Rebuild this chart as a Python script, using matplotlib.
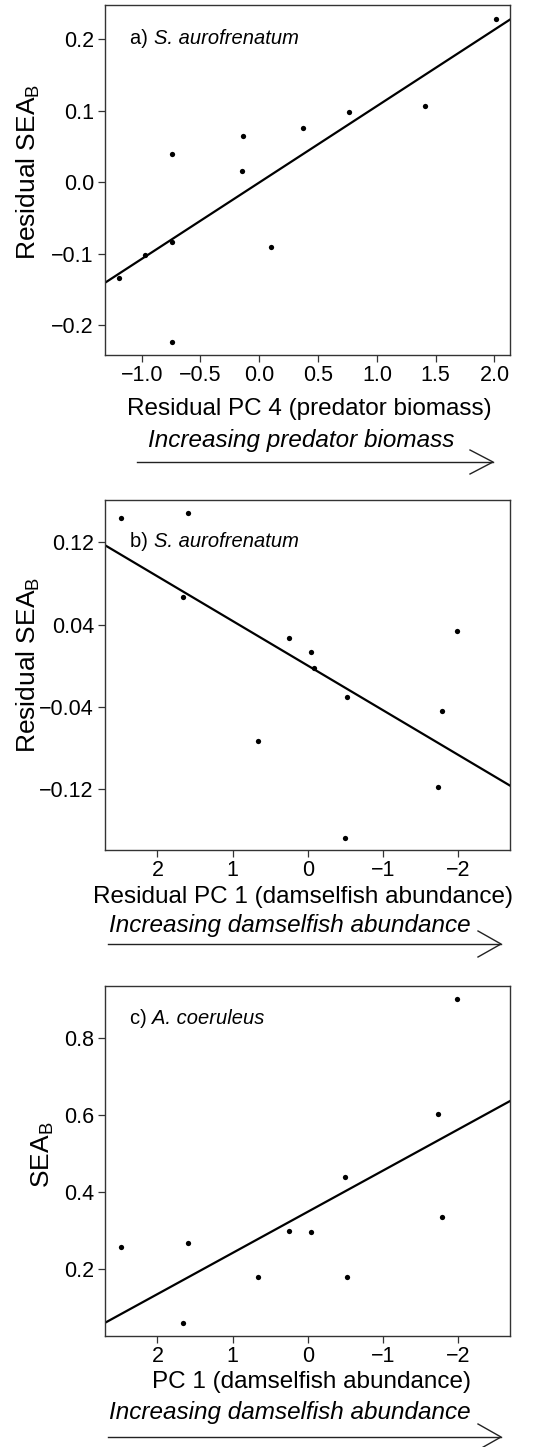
import matplotlib

matplotlib.use("Agg")
import matplotlib.pyplot as plt
from matplotlib.lines import Line2D
from matplotlib.ticker import FuncFormatter

plt.rcParams["font.family"] = ["Liberation Sans", "DejaVu Sans"]
plt.rcParams["mathtext.default"] = "regular"

W, H = 560, 1447

# panel a: residual PC4 vs residual SEA_B
a_x = [-1.19, -0.97, -0.74, -0.74, -0.74, -0.14, -0.15, 0.10, 0.37, 0.76, 1.41, 2.01]
a_y = [-0.134, -0.102, 0.040, -0.084, -0.224, 0.064, 0.016, -0.091, 0.076, 0.098, 0.107, 0.229]
a_fit = (0.107, -0.0005)  # slope, intercept
a_xticks = [-1.0, -0.5, 0.0, 0.5, 1.0, 1.5, 2.0]
a_yticks = [-0.2, -0.1, 0.0, 0.1, 0.2]

# panel b: residual PC1 vs residual SEA_B
b_x = [2.49, 1.60, 1.66, 0.25, -0.05, -0.09, -0.52, 0.66, -1.99, -1.79, -1.74, -0.50]
b_y = [0.144, 0.148, 0.067, 0.027, 0.013, -0.002, -0.030, -0.073, 0.034, -0.044, -0.118, -0.167]
b_fit = (0.0433, 0.0002)
b_xticks = [2, 1, 0, -1, -2]
b_yticks = [-0.12, -0.04, 0.04, 0.12]

# panel c: PC1 vs SEA_B
c_x = [2.49, 1.60, 1.66, 0.25, -0.05, -0.52, 0.66, -1.99, -1.79, -1.74, -0.50]
c_y = [0.259, 0.269, 0.061, 0.300, 0.296, 0.179, 0.179, 0.901, 0.336, 0.603, 0.439]
c_fit = (-0.1068, 0.3495)
c_xticks = [2, 1, 0, -1, -2]
c_yticks = [0.2, 0.4, 0.6, 0.8]


def fx(px):
    return px / W


def fy(py):
    return 1 - py / H


def fmt(decimals):
    return FuncFormatter(lambda v, pos: f"{v:.{decimals}f}".replace("-", "\u2212"))


def panel(fig, top, xs, ys, fit, xlim, ylim, xticks, yticks, xdec, ydec, letter, species):
    ax = fig.add_axes([fx(105), fy(top + 350), fx(405), 350 / H])
    ax.plot(xs, ys, "o", color="black", ms=3.8, mew=0)
    ax.axline((0, fit[1]), slope=fit[0], color="black", lw=1.6)
    ax.set_xlim(*xlim)
    ax.set_ylim(*ylim)
    ax.set_xticks(xticks)
    ax.set_yticks(yticks)
    ax.xaxis.set_major_formatter(fmt(xdec))
    ax.yaxis.set_major_formatter(fmt(ydec))
    ax.tick_params(labelsize=15.5, length=5, width=0.9, color="#333333", pad=3)
    ax.tick_params(axis="x", pad=2)
    for s in ax.spines.values():
        s.set_color("#333333")
        s.set_linewidth(1.0)
    t = ax.text(0.062, letter[1], letter[0], transform=ax.transAxes,
                fontsize=14.5, va="center", ha="left")
    ax.annotate(species, xy=(1, 0), xycoords=t, va="bottom", ha="left",
                fontsize=14.5, style="italic")
    return ax


def arrow(fig, x0, x1, y, back=23, half=13):
    kw = dict(color="#222222", lw=1.0)
    fig.add_artist(Line2D([fx(x0), fx(x1)], [fy(y), fy(y)], **kw))
    fig.add_artist(Line2D([fx(x1 - back), fx(x1), fx(x1 - back)],
                          [fy(y - half), fy(y), fy(y + half)], **kw))


fig = plt.figure(figsize=(W / 100, H / 100), dpi=100)

panel(fig, 5, a_x, a_y, a_fit, (-1.312, 2.132), (-0.242, 0.248),
      a_xticks, a_yticks, 1, 1, ("a) ", 0.905), "S. aurofrenatum")
panel(fig, 500, b_x, b_y, b_fit, (2.699, -2.694), (-0.179, 0.161),
      b_xticks, b_yticks, 0, 2, ("b) ", 0.881), "S. aurofrenatum")
panel(fig, 986, c_x, c_y, c_fit, (2.699, -2.694), (0.027, 0.936),
      c_xticks, c_yticks, 0, 1, ("c) ", 0.908), "A. coeruleus")

lab = dict(fontsize=17.5, ha="center", va="center")
ylab = dict(fontsize=19, ha="center", va="center", rotation=90)
ital = dict(fontsize=17.5, ha="center", va="center", style="italic")

fig.text(fx(28), fy(172), "Residual SEA$_B$", **ylab)
fig.text(fx(309), fy(409), "Residual PC 4 (predator biomass)", **lab)
fig.text(fx(301), fy(440), "Increasing predator biomass", **ital)
arrow(fig, 137, 493, 462, back=23, half=12)

fig.text(fx(28), fy(665), "Residual SEA$_B$", **ylab)
fig.text(fx(303), fy(897), "Residual PC 1 (damselfish abundance)", **lab)
fig.text(fx(290), fy(925), "Increasing damselfish abundance", **ital)
arrow(fig, 108, 501, 944)

fig.text(fx(43), fy(1155), "SEA$_B$", **ylab)
fig.text(fx(312), fy(1382), "PC 1 (damselfish abundance)", **lab)
fig.text(fx(290), fy(1413), "Increasing damselfish abundance", **ital)
arrow(fig, 108, 501, 1437)

fig.savefig("out.png", dpi=100)
